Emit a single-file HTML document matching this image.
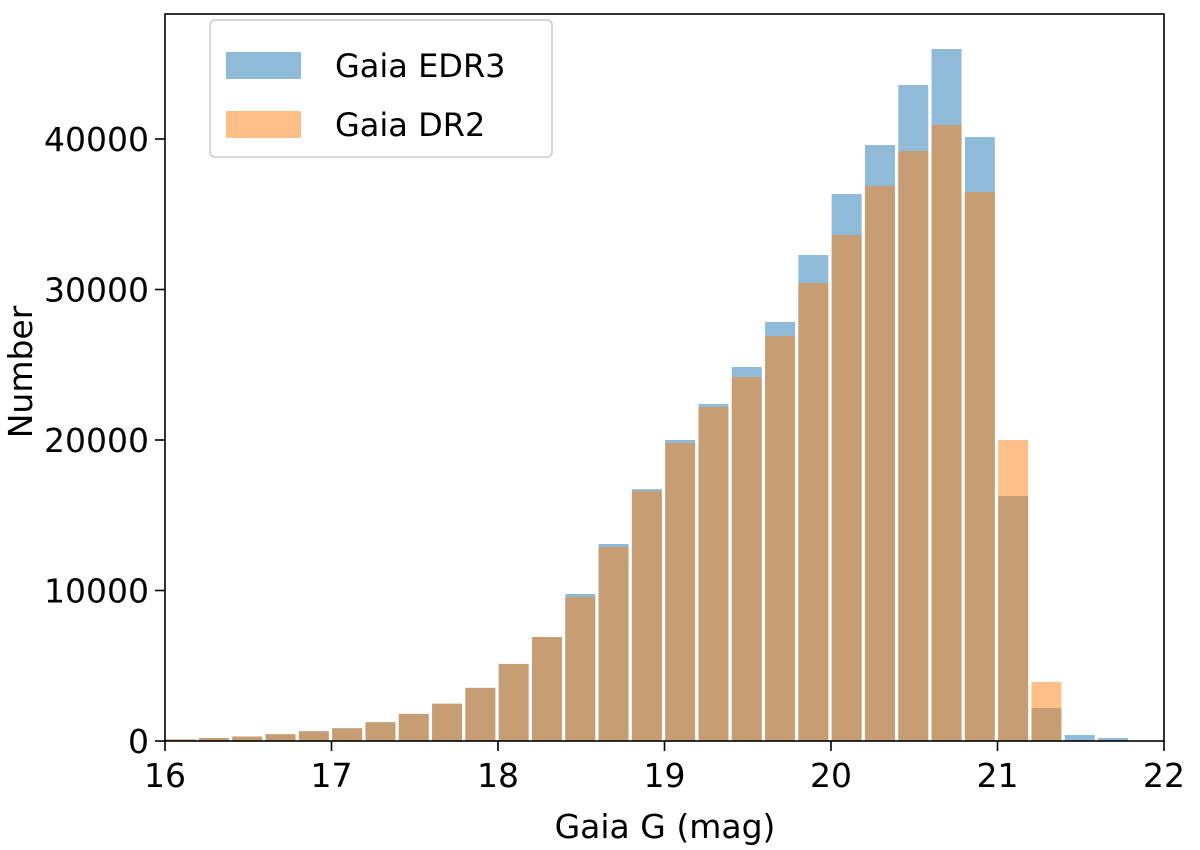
<!DOCTYPE html>
<html><head><meta charset="utf-8"><style>
body{margin:0;background:#fff;}
svg text{font-family:"DejaVu Sans","Liberation Sans",sans-serif;fill:#000;}
</style></head><body>
<svg id="chart" width="1200" height="845">
<g id="bars"></g>
<rect x="165" y="14" width="999" height="727" fill="none" stroke="#000" stroke-width="1.6"/>
<g id="axes"></g>
<text x="665" y="838" font-size="33" text-anchor="middle">Gaia G (mag)</text>
<text transform="translate(32,372) rotate(-90)" font-size="33" text-anchor="middle">Number</text>
<g>
<rect x="210" y="20" width="342" height="137" rx="5" fill="#fff" fill-opacity="0.8" stroke="#ccc" stroke-width="1.5"/>
<rect x="226" y="52" width="75" height="27" fill="#1f77b4" fill-opacity="0.5"/>
<text x="335" y="77" font-size="32">Gaia EDR3</text>
<rect x="226" y="111" width="75" height="27" fill="#ff7f0e" fill-opacity="0.5"/>
<text x="335" y="136" font-size="32">Gaia DR2</text>
</g>
</svg>
<script>
const binStarts=[16.0,16.2,16.4,16.6,16.8,17.0,17.2,17.4,17.6,17.8,18.0,18.2,18.4,18.6,18.8,19.0,19.2,19.4,19.6,19.8,20.0,20.2,20.4,20.6,20.8,21.0,21.2,21.4,21.6,21.8];
const edr3=[110,200,300,450,650,850,1250,1800,2480,3530,5120,6910,9770,13090,16740,20000,22390,24850,27840,32290,36350,39600,43590,45980,40130,16280,2190,400,200,0];
const dr2=[110,200,300,450,650,850,1250,1800,2480,3530,5120,6910,9570,12890,16610,19800,22190,24190,26910,30430,33620,36880,39200,40930,36480,20000,3920,0,0,0];
const xTicks=[16,17,18,19,20,21,22];
const yTicks=[0,10000,20000,30000,40000];
const binWidth=0.2;
const X=v=>165+(v-16)*999/6;
const Y=v=>741-v*0.01505;
const NS="http://www.w3.org/2000/svg";
const bars=document.getElementById('bars'), axes=document.getElementById('axes');
function drawSeries(vals,color,name){
  vals.forEach((v,i)=>{
    if(v<=0)return;
    const r=document.createElementNS(NS,'rect');
    const x0=X(binStarts[i]+binWidth*0.02), x1=X(binStarts[i]+binWidth*0.92);
    r.setAttribute('x',x0);r.setAttribute('width',x1-x0);
    r.setAttribute('y',Y(v));r.setAttribute('height',741-Y(v));
    r.setAttribute('fill',color);r.setAttribute('fill-opacity','0.5');
    
    
    bars.appendChild(r);
  });
}
drawSeries(edr3,'#1f77b4','edr3');
drawSeries(dr2,'#ff7f0e','dr2');
xTicks.forEach(t=>{
  const l=document.createElementNS(NS,'line');
  l.setAttribute('x1',X(t));l.setAttribute('x2',X(t));l.setAttribute('y1',741);l.setAttribute('y2',751);
  l.setAttribute('stroke','#000');l.setAttribute('stroke-width','1.6');
  
  
  axes.appendChild(l);
  const tx=document.createElementNS(NS,'text');
  tx.setAttribute('x',X(t));tx.setAttribute('y',787);tx.setAttribute('font-size','33');tx.setAttribute('text-anchor','middle');
  tx.textContent=t;
  
  
  axes.appendChild(tx);
});
yTicks.forEach(t=>{
  const l=document.createElementNS(NS,'line');
  l.setAttribute('x1',155);l.setAttribute('x2',165);l.setAttribute('y1',Y(t));l.setAttribute('y2',Y(t));
  l.setAttribute('stroke','#000');l.setAttribute('stroke-width','1.6');
  
  
  axes.appendChild(l);
  const tx=document.createElementNS(NS,'text');
  tx.setAttribute('x',149);tx.setAttribute('y',Y(t)+12);tx.setAttribute('font-size','33');tx.setAttribute('text-anchor','end');
  tx.textContent=t;
  
  
  axes.appendChild(tx);
});
</script>
</body></html>
